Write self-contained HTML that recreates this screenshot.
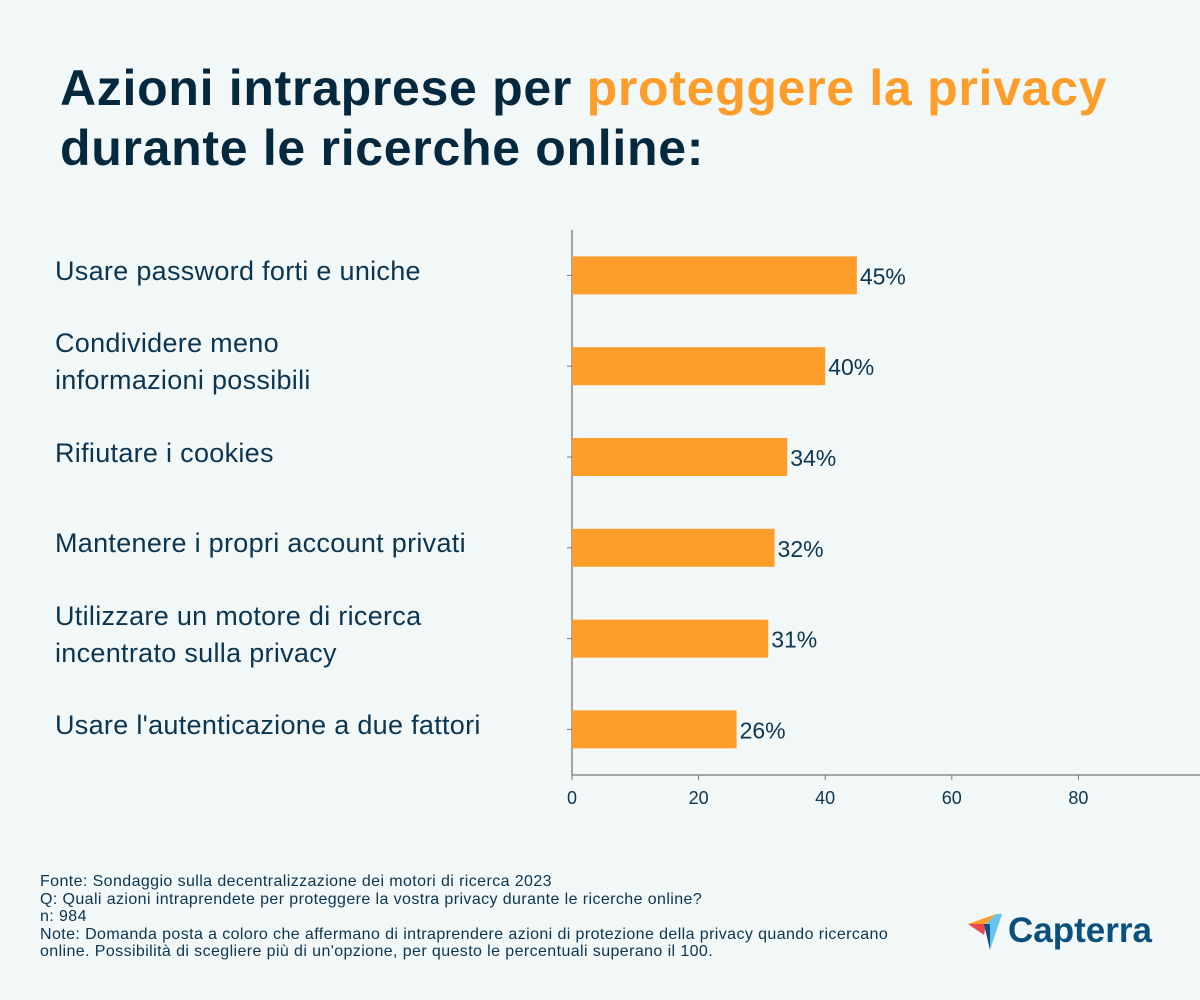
<!DOCTYPE html>
<html><head><meta charset="utf-8"><style>
body{margin:0;width:1200px;height:1000px;background:#f2f7f8;font-family:"Liberation Sans",sans-serif;color:#0b3550;position:relative;overflow:hidden}
h1{position:absolute;left:60px;top:58px;margin:0;font-size:50px;letter-spacing:0.7px;line-height:60px;font-weight:bold;color:#04293f;white-space:nowrap}
h1 span{color:#ff9d2a}
.lab{position:absolute;left:55px;font-size:27px;letter-spacing:0.3px;line-height:37px;color:#0b3550;white-space:nowrap}
.foot{position:absolute;left:40px;top:873px;font-size:16px;letter-spacing:0.4px;line-height:17.5px;color:#0b3550;white-space:nowrap}
</style></head><body>
<h1>Azioni intraprese per <span>proteggere la privacy</span><br>durante le ricerche online:</h1>
<div id="labels"></div>
<svg id="chart" width="1200" height="1000" style="position:absolute;left:0;top:0"></svg>
<div class="foot">Fonte: Sondaggio sulla decentralizzazione dei motori di ricerca 2023<br>Q: Quali azioni intraprendete per proteggere la vostra privacy durante le ricerche online?<br>n: 984<br>Note: Domanda posta a coloro che affermano di intraprendere azioni di protezione della privacy quando ricercano<br>online. Possibilità di scegliere più di un'opzione, per questo le percentuali superano il 100.</div>
<div style="position:absolute;left:966px;top:910px;width:200px;height:45px">
<svg width="45" height="45" style="position:absolute;left:0;top:0"><polygon points="2,14 30,4 20,14" fill="#ff9d2a"/><polygon points="2,14 20,14 18,25" fill="#e9484e"/><polygon points="20,14 30,4 36,4 24,40" fill="#64c3ef"/><polygon points="18,14 24,14 24,40" fill="#0b4f7c"/></svg>
<span style="position:absolute;left:42px;top:1px;font-size:35px;font-weight:bold;color:#0b4f7c">Capterra</span></div>
<script>
const categories=["Usare password forti e uniche","Condividere meno<br>informazioni possibili","Rifiutare i cookies","Mantenere i propri account privati","Utilizzare un motore di ricerca<br>incentrato sulla privacy","Usare l'autenticazione a due fattori"];
const values=[45,40,34,32,31,26];
const ticks=[0,20,40,60,80];
const x0=572,k=6.33,yTop=230,yAxis=775,band=90.8,bh=38;
const X=v=>x0+v*k;
const Y=i=>yTop+band*(i+0.5);
const svg=document.getElementById('chart');
const NS='http://www.w3.org/2000/svg';
function mk(t,a){const e=document.createElementNS(NS,t);for(const p in a)e.setAttribute(p,a[p]);svg.appendChild(e);return e;}
let ax=mk('line',{x1:x0,y1:yTop,x2:x0,y2:yAxis,stroke:'#777','stroke-width':1.3});


let bx=mk('line',{x1:x0,y1:yAxis,x2:1200,y2:yAxis,stroke:'#777','stroke-width':1.3});


ticks.forEach(t=>{
 mk('line',{x1:X(t),y1:yAxis,x2:X(t),y2:yAxis+5,stroke:'#777'});
 let tx=mk('text',{x:X(t),y:yAxis+29,'text-anchor':'middle','font-size':18,fill:'#0b3550','font-family':'Liberation Sans'});
 tx.textContent=t;
 
 
});
const lab=document.getElementById('labels');
values.forEach((v,i)=>{
 const y=Y(i);
 mk('line',{x1:x0-5,y1:y,x2:x0,y2:y,stroke:'#777'});
 let r=mk('rect',{x:x0,y:y-bh/2,width:X(v)-x0,height:bh,fill:'#ff9d2a'});
 
 
 let t=mk('text',{x:X(v)+3,y:y+9,'font-size':23,fill:'#0b3550','font-family':'Liberation Sans'});
 t.textContent=v+'%';
 
 
 const d=document.createElement('div');
 d.className='lab';
 d.innerHTML=categories[i];
 const lines=categories[i].split('<br>').length;
 d.style.top=(y-4-lines*37/2)+'px';
 
 
 lab.appendChild(d);
});
</script>
</body></html>
